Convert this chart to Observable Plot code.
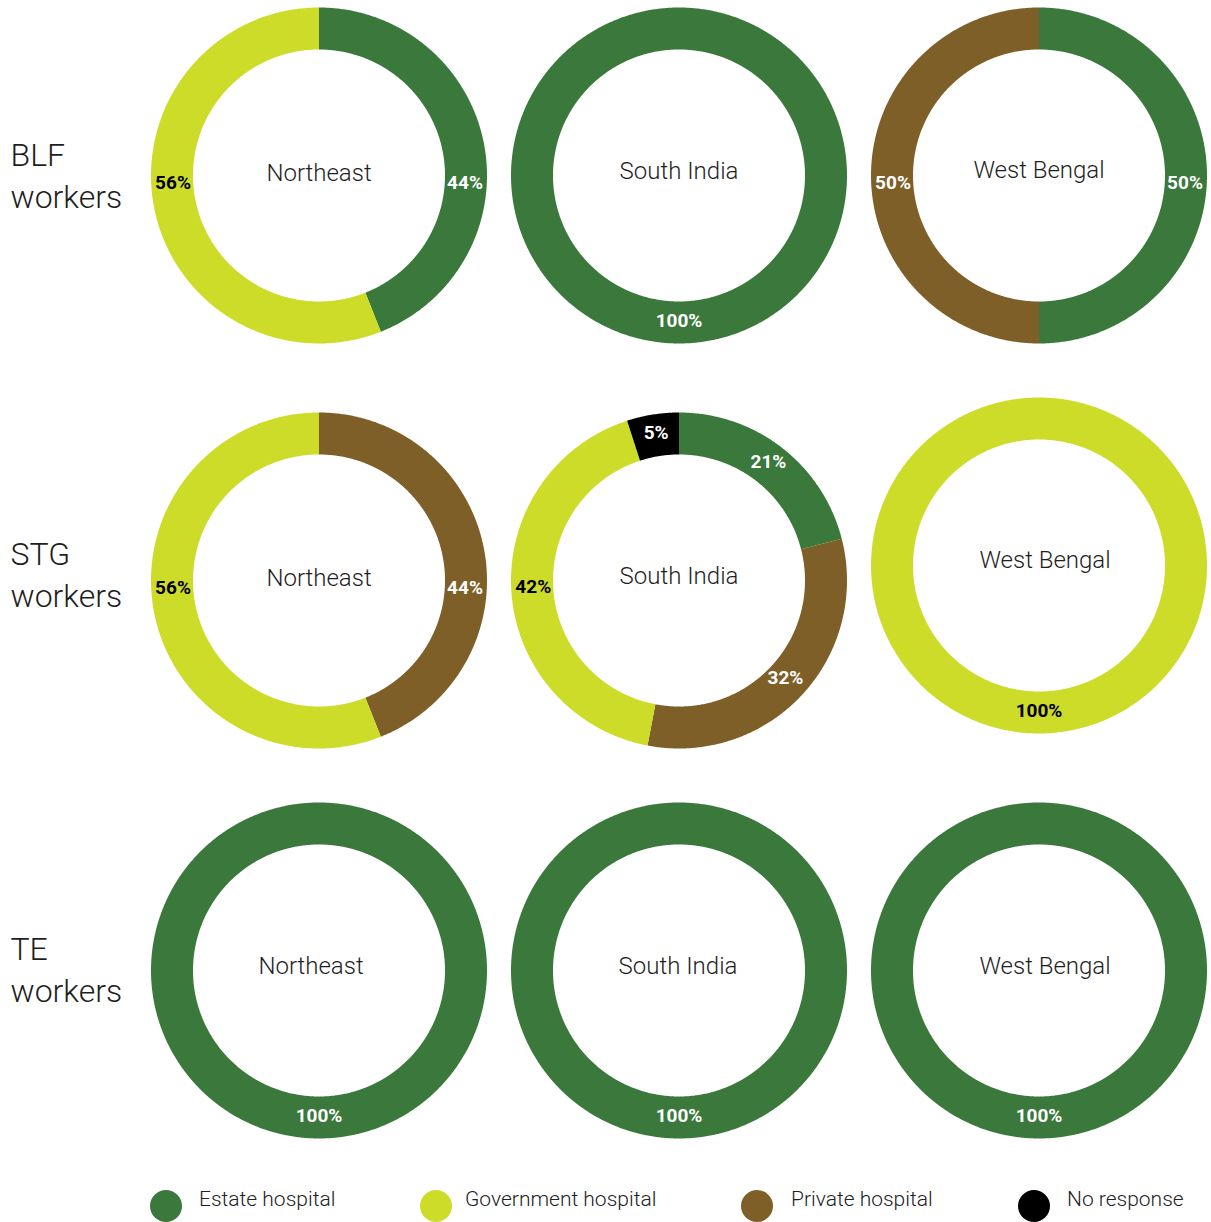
<!DOCTYPE html>
<html><head><meta charset="utf-8">
<script src="https://cdn.jsdelivr.net/npm/d3@7"></script>
<script src="https://cdn.jsdelivr.net/npm/@observablehq/plot@0.6"></script>
<style>
body{margin:0;background:#fff;font-family:Roboto,sans-serif;}
#legend{position:relative;width:1211px;height:52px;overflow:hidden;}
.sw{position:absolute;width:32px;height:32px;border-radius:50%;top:20px;}
.lb{position:absolute;top:19px;font-size:21px;line-height:21px;font-weight:300;color:#222;white-space:nowrap;}
</style></head><body>
<div id="chart"></div><div id="legend"></div>
<script>
// ---- data ----
const regions = ["Northeast", "South India", "West Bengal"];
const groups = ["BLF workers", "STG workers", "TE workers"];
const categories = ["Estate hospital", "Government hospital", "Private hospital", "No response"];
const categoryColors = ["#3a783b", "#cddc29", "#7f5f28", "#000000"];
// values in group-major order: BLF(NE,SI,WB), STG(NE,SI,WB), TE(NE,SI,WB)
const estateHospital     = [44, 100, 50,   0, 21,   0, 100, 100, 100];
const governmentHospital = [56,   0,  0,  56, 42, 100,   0,   0,   0];
const privateHospital    = [ 0,   0, 50,  44, 32,   0,   0,   0,   0];
const noResponse         = [ 0,   0,  0,   0,  5,   0,   0,   0,   0];

// ---- layout ----
const W = 1211, H = 1170;
const colX = [318.5, 678.5, 1038.5];
const rowY = [175, 580, 970];
const rowLabelY = [173, 572, 967];
const centerShift = {"STG workers|West Bengal": -15};
const nameShift = {
  "BLF workers|South India": [0, -2],
  "BLF workers|West Bengal": [0, -3],
  "STG workers|South India": [0, -2],
  "STG workers|West Bengal": [6, -3],
  "TE workers|Northeast": [-8, -2],
  "TE workers|South India": [-1, -2],
  "TE workers|West Bengal": [6, -2]
};
const R_IN = 126, R_OUT = 168, R_LABEL = 146;
const drawOrder = ["Estate hospital", "Private hospital", "Government hospital", "No response"];

const seriesByCat = {
  "Estate hospital": estateHospital,
  "Government hospital": governmentHospital,
  "Private hospital": privateHospital,
  "No response": noResponse
};

const charts = [];
groups.forEach((g, gi) => regions.forEach((r, ri) => {
  const k = gi * 3 + ri;
  const key = g + "|" + r;
  const cx = colX[ri], cy = rowY[gi] + (centerShift[key] || 0);
  const ns = nameShift[key] || [0, 0];
  const vals = drawOrder.map(c => ({cat: c, value: seriesByCat[c][k]})).filter(d => d.value > 0);
  charts.push({group: g, region: r, cx, cy, nx: cx + ns[0], ny: cy - 2 + ns[1], vals});
}));

const pie = d3.pie().sort(null).value(d => d.value);
const ringPts = [];
const labels = [];
charts.forEach((ch, ci) => {
  const arcs = pie(ch.vals);
  arcs.forEach((a, ai) => {
    const id = ci + "-" + ai;
    const n = Math.max(2, Math.ceil((a.endAngle - a.startAngle) / (Math.PI / 360)));
    for (let i = 0; i <= n; i++) {
      const t = a.startAngle + (a.endAngle - a.startAngle) * i / n;
      ringPts.push({id, cat: a.data.cat, x: ch.cx + R_OUT * Math.sin(t), y: ch.cy - R_OUT * Math.cos(t)});
    }
    for (let i = n; i >= 0; i--) {
      const t = a.startAngle + (a.endAngle - a.startAngle) * i / n;
      ringPts.push({id, cat: a.data.cat, x: ch.cx + R_IN * Math.sin(t), y: ch.cy - R_IN * Math.cos(t)});
    }
    let m = (a.startAngle + a.endAngle) / 2, dy = -3;
    if (arcs.length === 2) { m = m < Math.PI ? Math.PI / 2 : 3 * Math.PI / 2; dy = 7; }
    if (arcs.length === 1) { dy = -1; }
    labels.push({cat: a.data.cat, text: a.data.value + "%",
      x: ch.cx + R_LABEL * Math.sin(m), y: ch.cy - R_LABEL * Math.cos(m) + dy});
  });
});

const rowLabels = groups.map((g, gi) => ({text: g.replace(" ", "\n"), x: 10, y: rowLabelY[gi]}));

const plot = Plot.plot({
  width: W, height: H, margin: 0,
  x: {domain: [0, W], range: [0, W], axis: null},
  y: {domain: [0, H], range: [0, H], axis: null},
  color: {domain: categories, range: categoryColors},
  style: {fontFamily: "Roboto, sans-serif", background: "#fff"},
  marks: [
    Plot.line(ringPts, {x: "x", y: "y", z: "id", fill: "cat", stroke: null, curve: "linear-closed"}),
    Plot.text(charts, {x: "nx", y: "ny", text: "region", fontSize: 24, fontWeight: 300, fill: "#1e1e1e"}),
    Plot.text(labels.filter(d => d.cat === "Government hospital"), {x: "x", y: "y", text: "text", fontSize: 19, fontWeight: 700, fill: "#000"}),
    Plot.text(labels.filter(d => d.cat !== "Government hospital"), {x: "x", y: "y", text: "text", fontSize: 19, fontWeight: 700, fill: "#fff"}),
    Plot.text(rowLabels, {x: "x", y: "y", text: "text", textAnchor: "start", fontSize: 32, fontWeight: 300, lineHeight: 1.3, fill: "#1e1e1e"})
  ]
});
document.getElementById("chart").appendChild(plot);

// ---- legend ----
const legendSwatchX = [150, 420, 741, 1018];
const legendTextX = [199, 465, 791, 1067];
const legend = document.getElementById("legend");
categories.forEach((c, i) => {
  const s = document.createElement("div");
  s.className = "sw"; s.style.left = legendSwatchX[i] + "px"; s.style.background = categoryColors[i];
  const t = document.createElement("div");
  t.className = "lb"; t.style.left = legendTextX[i] + "px"; t.textContent = c;
  legend.appendChild(s); legend.appendChild(t);
});
</script>
</body></html>
